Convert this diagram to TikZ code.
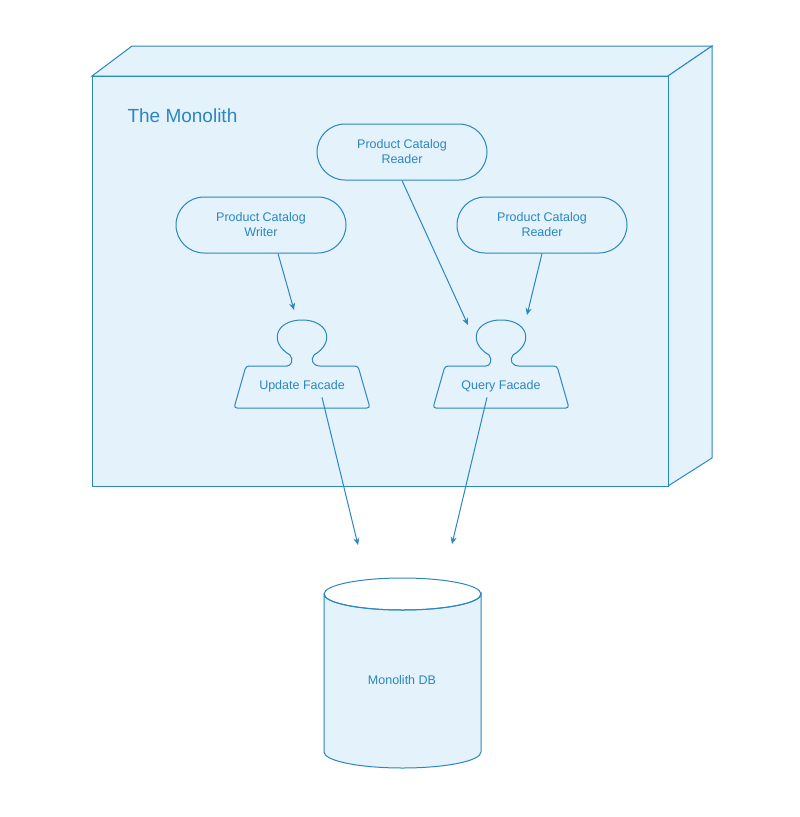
\documentclass[tikz,border=0pt]{standalone}
\usepackage{fontspec}
\setmainfont{Liberation Sans}
\usetikzlibrary{arrows.meta}
\definecolor{line}{HTML}{2C86C0}
\definecolor{fillb}{HTML}{E3F2FB}
\begin{document}
\begin{tikzpicture}[x=1pt,y=-1pt,
  every node/.style={text=line,font=\fontsize{12.5}{15}\selectfont},
  pill/.style={draw=line,fill=fillb,line width=1pt,rounded corners=28pt,minimum width=170pt,minimum height=56pt,align=center},
  conn/.style={draw=line,line width=1pt,-{Stealth[length=7pt,width=6pt]}},
  shp/.style={draw=line,fill=fillb,line width=1pt}]
\useasboundingbox (0,0) rectangle (800,817);
% monolith box
\path[shp] (92,76) -- (132,46) -- (712,46) -- (668,76) -- cycle;
\path[shp] (668,76) -- (712,46) -- (712,458) -- (668,486) -- cycle;
\path[shp] (92,76) rectangle (668,486);
\node[anchor=west,font=\fontsize{19}{22}\selectfont] (title) at (124,116) {The Monolith};
% components
\node[pill] (rtop) at (402,152) {Product Catalog\\Reader};
\node[pill] (writer) at (261,225) {Product Catalog\\Writer};
\node[pill] (rright) at (542,225) {Product Catalog\\Reader};
% facades
\foreach \cx/\nm/\txt in {302/upd/Update Facade,501/qry/Query Facade}{
  \path[shp,rounded corners=3pt] (\cx-68,408) -- (\cx-56,366) -- (\cx-18,366)
    [sharp corners] .. controls (\cx-11,366) and (\cx-8,360) .. (\cx-12,355)
    .. controls (\cx-34,342) and (\cx-26,320) .. (\cx,320)
    .. controls (\cx+26,320) and (\cx+34,342) .. (\cx+12,355)
    .. controls (\cx+8,360) and (\cx+11,366) .. (\cx+18,366)
    [rounded corners=3pt] -- (\cx+56,366) -- (\cx+68,408) -- cycle;
  \node (\nm) at (\cx,386) {\txt};
}
% database
\path[shp] (324,594) -- (324,752) arc[start angle=180,end angle=0,x radius=78.5,y radius=16] -- (481,594) arc[start angle=0,end angle=180,x radius=78.5,y radius=16];
\draw[line,line width=1pt] (402.5,594) ellipse[x radius=78.5,y radius=16];
\node (db) at (402,680) {Monolith DB};
% arrow end points
\coordinate (wEnd) at (294,310);
\coordinate (rtEnd) at (468,325);
\coordinate (rrEnd) at (527,315);
\coordinate (uEnd) at (358,545);
\coordinate (qEnd) at (452,544);
\draw[conn] (writer.south) ++(17,0) -- (wEnd);
\draw[conn] (rtop.south) -- (rtEnd);
\draw[conn] (rright.south) -- (rrEnd);
\draw[conn] (upd.south) ++(20,2) -- (uEnd);
\draw[conn] (qry.south) ++(-14,2) -- (qEnd);
\end{tikzpicture}
\end{document}
